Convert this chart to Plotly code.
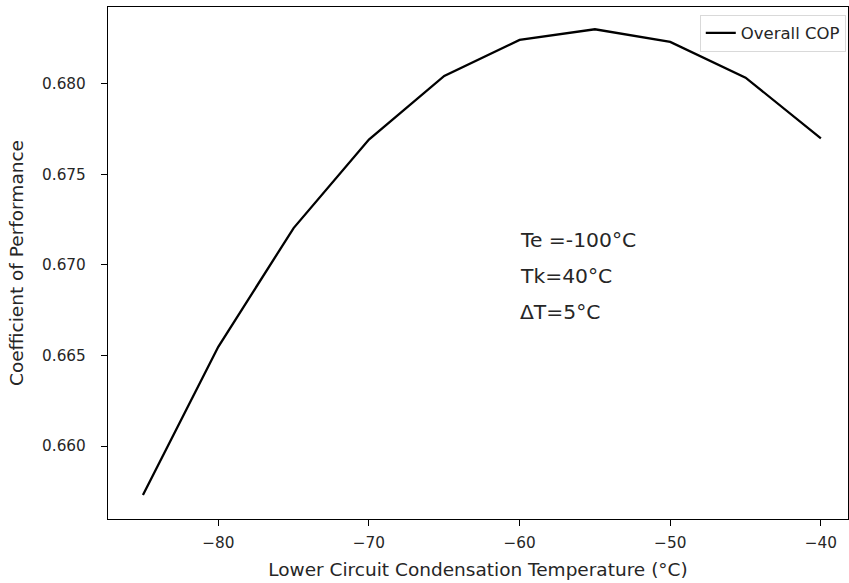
import plotly.graph_objects as go

# Data
condensation_temp = [-85, -80, -75, -70, -65, -60, -55, -50, -45, -40]
overall_cop = [0.65729, 0.66548, 0.67204, 0.67693, 0.68044, 0.68243, 0.68302, 0.68232, 0.68035, 0.67699]

x_tick_vals = [-80, -70, -60, -50, -40]
x_tick_labels = ["\u221280", "\u221270", "\u221260", "\u221250", "\u221240"]
y_tick_vals = [0.660, 0.665, 0.670, 0.675, 0.680]
y_tick_labels = ["0.660", "0.665", "0.670", "0.675", "0.680"]

note_lines = ["Te =-100°C", "Tk=40°C", "ΔT=5°C"]
note_x = -60
note_y = [0.6714, 0.6694, 0.6674]

FONT = "DejaVu Sans"
TXT = "#262626"

fig = go.Figure()
fig.add_trace(go.Scatter(
    x=condensation_temp, y=overall_cop, mode="lines", name="Overall COP",
    line=dict(color="black", width=2.3),
))

for txt, yy in zip(note_lines, note_y):
    fig.add_annotation(x=note_x, y=yy, text=txt, showarrow=False,
                       xanchor="left", yanchor="middle", xshift=-2,
                       font=dict(family=FONT, size=20.3, color=TXT))

axis_common = dict(showline=True, linecolor="black", linewidth=1.2, mirror=True,
                   ticks="outside", ticklen=6, tickwidth=1.2, tickcolor="black",
                   showgrid=False, zeroline=False,
                   tickfont=dict(family=FONT, size=15.3, color=TXT))

fig.update_layout(
    width=849, height=583,
    margin=dict(l=108, r=1, t=7, b=64),
    paper_bgcolor="white", plot_bgcolor="white",
    font=dict(family=FONT, color=TXT),
    xaxis=dict(range=[-87.32, -38.2], tickvals=x_tick_vals, ticktext=x_tick_labels,
               title=dict(text="Lower Circuit Condensation Temperature (°C)",
                          font=dict(family=FONT, size=18.5, color=TXT), standoff=11),
               ticklabelstandoff=4, **axis_common),
    yaxis=dict(range=[0.65597, 0.68425], tickvals=y_tick_vals, ticktext=y_tick_labels,
               title=dict(text="Coefficient of Performance",
                          font=dict(family=FONT, size=18.5, color=TXT), standoff=13),
               ticklabelstandoff=12, **axis_common),
    showlegend=True,
    legend=dict(x=0.997, y=0.985, xanchor="right", yanchor="top",
                bgcolor="rgba(255,255,255,0.8)", bordercolor="#d9d9d9", borderwidth=1,
                font=dict(family=FONT, size=16.5, color=TXT)),
)

fig.write_html("out.html")
